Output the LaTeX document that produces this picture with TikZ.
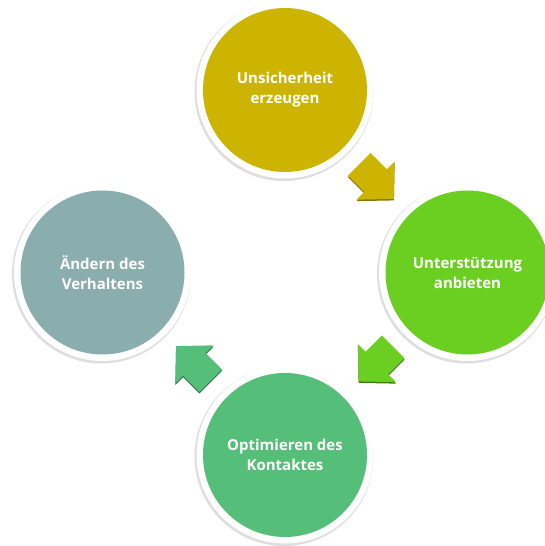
\documentclass[tikz,border=0pt]{standalone}
\usepackage{fontspec}
\setmainfont{Open Sans}
\usetikzlibrary{calc}
\definecolor{cyellow}{RGB}{204,180,0}
\definecolor{clime}{RGB}{107,207,34}
\definecolor{cgreen}{RGB}{85,190,120}
\definecolor{cgrey}{RGB}{138,173,173}
\tikzset{
  x=1pt,y=1pt,
  disc/.style={circle, minimum size=164pt, inner sep=0pt, text=white, align=center,
    font=\fontsize{15}{20}\selectfont\bfseries},
  ring/.style={circle, minimum size=177pt, inner sep=0pt, fill=white},
  ringshadow/.style={circle, minimum size=179pt, inner sep=0pt, fill=black!13},
  blockarrow/.pic={
    \fill[pic actions] (-24,-16) -- (-1,-16) -- (-1,-27) -- (25,0) -- (-1,27) -- (-1,16) -- (-24,16) -- cycle;
  }
}
\begin{document}
\begin{tikzpicture}
\useasboundingbox (0,0) rectangle (545,546);
% ring shadows and rings
\foreach \cx/\cy in {285/456,467.5/273.5,285/91,102.5/273.5}{
  \node[ringshadow] at (\cx-1,\cy-1.5) {};
  \node[ring] at (\cx,\cy) {};
}
\node[disc, fill=cyellow] (top) at (285,456) {Unsicherheit\\erzeugen};
\node[disc, fill=clime] (right) at (467.5,273.5) {Unterstützung\\anbieten};
\node[disc, fill=cgreen] (bottom) at (285,91) {Optimieren des\\Kontaktes};
\node[disc, fill=cgrey] (left) at (102.5,273.5) {Ändern des\\Verhaltens};
% arrows
\coordinate (a1) at ($(top.center)!0.5!(right.center)$);
\coordinate (a2) at ($(right.center)!0.5!(bottom.center)$);
\coordinate (a3) at ($(bottom.center)!0.5!(left.center)$);
\pic[fill=cyellow!65!black, rotate=-45] at ($(a1)+(0,-1.5)$) {blockarrow};
\pic[fill=cyellow, rotate=-45] at (a1) {blockarrow};
\pic[fill=clime!60!black, rotate=-135] at ($(a2)+(0,-1.5)$) {blockarrow};
\pic[fill=clime, rotate=-135] at (a2) {blockarrow};
\pic[fill=cgreen!60!black, rotate=135] at ($(a3)+(0,-1.5)$) {blockarrow};
\pic[fill=cgreen, rotate=135] at (a3) {blockarrow};
\end{tikzpicture}
\end{document}
